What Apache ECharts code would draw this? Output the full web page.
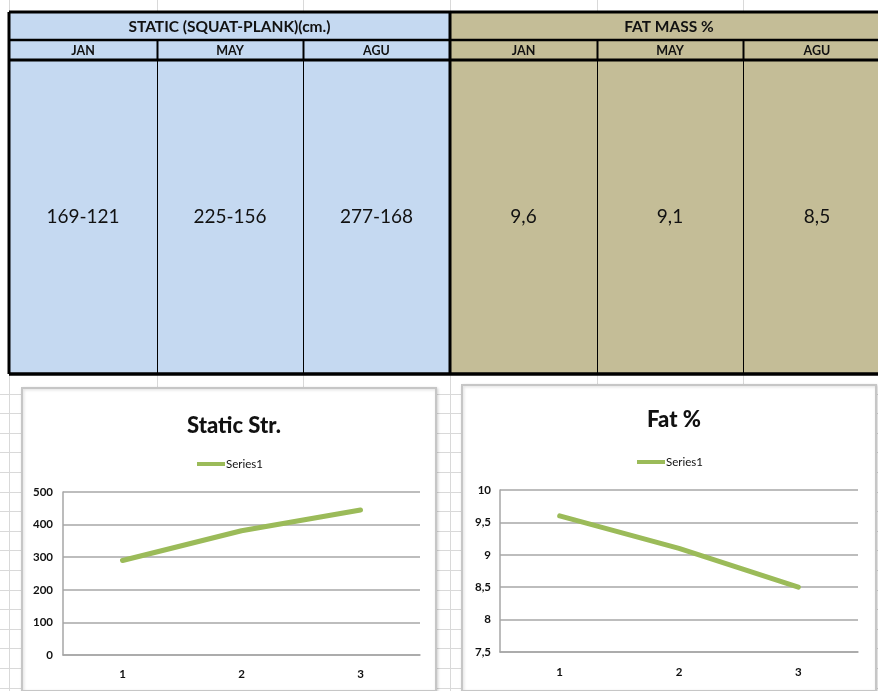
<!DOCTYPE html>
<html>
<head>
<meta charset="utf-8">
<script src="https://cdn.jsdelivr.net/npm/echarts@6/dist/echarts.min.js"></script>
<style>
  html, body { margin: 0; padding: 0; background: #ffffff; }
  #sheet { width: 878px; height: 691px; }
</style>
</head>
<body>
<div id="sheet"></div>
<script>
// Monthly measurements
const months = ['JAN', 'MAY', 'AGU'];
const squatCm = [169, 225, 277];
const plankCm = [121, 156, 168];
const fatMassPct = [9.6, 9.1, 8.5];
const pointLabels = ['1', '2', '3'];
const staticTicks = { min: 0, max: 500, interval: 100 };
const fatTicks = { min: 7.5, max: 10, interval: 0.5 };

// Static strength plotted as squat + plank total
const staticTotal = squatCm.map((v, i) => v + plankCm[i]);
const comma = v => String(v).replace('.', ',');

const FONT = 'Lato, "Open Sans", sans-serif';
const GREEN = '#9BBB59';
const BLUE = '#C5D9F1';
const KHAKI = '#C4BD97';
const SHEET_LINE = '#d9d9d9';

const chart = echarts.init(document.getElementById('sheet'), null, { renderer: 'canvas' });

// ---- spreadsheet cell grid behind everything ----
const colX = [9, 157, 303, 450, 597, 743, 889];
const tableTop = 12, row1 = 40, row2 = 60, tableBottom = 374;
const g = [];
colX.forEach(x => g.push({
  type: 'line', z: -20, silent: true,
  shape: { x1: x + 0.5, y1: 0, x2: x + 0.5, y2: 691 },
  style: { stroke: SHEET_LINE, lineWidth: 1 }
}));
for (let y = tableBottom + 19.6; y < 691; y += 19.6) {
  g.push({
    type: 'line', z: -20, silent: true,
    shape: { x1: 0, y1: Math.round(y) + 0.5, x2: 878, y2: Math.round(y) + 0.5 },
    style: { stroke: SHEET_LINE, lineWidth: 1 }
  });
}

// ---- table ----
const blockW = [[colX[0], colX[3]], [colX[3], colX[6]]];
const blockFill = [BLUE, KHAKI];
const blockTitle = ['STATIC (SQUAT-PLANK)(cm.)', 'FAT MASS %'];
const cellText = [
  squatCm.map((v, i) => v + '-' + plankCm[i]),
  fatMassPct.map(comma)
];
blockW.forEach(([x0, x1], b) => {
  g.push({ type: 'rect', z: -10, silent: true,
    shape: { x: x0, y: tableTop, width: x1 - x0, height: tableBottom - tableTop },
    style: { fill: blockFill[b] } });
  g.push({ type: 'text', z: -5, silent: true,
    style: { text: blockTitle[b], x: b === 0 ? (x0 + x1) / 2 : (x0 + 888) / 2, y: (tableTop + row1) / 2 + 1,
      align: 'center', verticalAlign: 'middle', fill: '#111', font: 'bold 15.5px ' + FONT } });
  for (let c = 0; c < 3; c++) {
    const cx0 = colX[b * 3 + c], cx1 = colX[b * 3 + c + 1];
    const mid = (b === 1 && c === 2) ? (cx0 + 891) / 2 : (cx0 + cx1) / 2;
    g.push({ type: 'text', z: -5, silent: true,
      style: { text: months[c], x: mid, y: (row1 + row2) / 2 + 1,
        align: 'center', verticalAlign: 'middle', fill: '#111', font: 'bold 12.5px ' + FONT } });
    g.push({ type: 'text', z: -5, silent: true,
      style: { text: cellText[b][c], x: mid, y: 217,
        align: 'center', verticalAlign: 'middle', fill: '#111', font: '19px ' + FONT } });
  }
});
// table borders
const hLine = (y, w) => g.push({ type: 'line', z: -4, silent: true,
  shape: { x1: colX[0], y1: y, x2: 878, y2: y }, style: { stroke: '#000', lineWidth: w } });
hLine(tableTop, 3); hLine(row1, 2.5); hLine(row2, 3); hLine(tableBottom, 3.5);
const vLine = (x, y0, y1, w) => g.push({ type: 'line', z: -4, silent: true,
  shape: { x1: x, y1: y0, x2: x, y2: y1 }, style: { stroke: '#000', lineWidth: w } });
vLine(colX[0], tableTop, tableBottom, 3);
vLine(colX[3], tableTop, tableBottom, 3);
[1, 2, 4, 5].forEach(i => {
  vLine(colX[i] + 0.5, row1, row2, 2);
  vLine(colX[i] + 0.5, row2, tableBottom, 1);
});

// ---- chart frames ----
[[22, 388, 414, 303], [462, 385, 414, 306]].forEach(([x, y, w, h]) => g.push({
  type: 'rect', z: -3, silent: true,
  shape: { x: x, y: y, width: w, height: h },
  style: { fill: '#fff', stroke: '#c6c6c6', lineWidth: 2,
    shadowBlur: 3, shadowColor: 'rgba(0,0,0,0.15)', shadowOffsetX: 1, shadowOffsetY: 1 }
}));

const axisLabel = { color: '#111', fontSize: 11.5, fontFamily: FONT, fontWeight: 'bold' };
const splitLine = { show: true, lineStyle: { color: '#bdbdbd', width: 2 } };
const legendText = { fontFamily: FONT, fontSize: 11.5, color: '#111', padding: [0, 0, 0, -4] };

chart.setOption({
  animation: false,
  backgroundColor: '#ffffff',
  title: [
    { text: 'Static Str.', left: 229, top: 410, textAlign: 'center',
      textStyle: { fontFamily: FONT, fontSize: 22, fontWeight: 900, color: '#111' } },
    { text: 'Fat %', left: 669, top: 404, textAlign: 'center',
      textStyle: { fontFamily: FONT, fontSize: 22, fontWeight: 900, color: '#111' } }
  ],
  legend: [
    { data: ['Series1'], left: 192, top: 453, icon: 'rect', itemWidth: 28, itemHeight: 4,
      textStyle: legendText },
    { data: ['Series1 '], left: 632, top: 451, icon: 'rect', itemWidth: 28, itemHeight: 4,
      textStyle: legendText, formatter: n => n.trim() }
  ],
  grid: [
    { left: 63, top: 492, width: 357, height: 163 },
    { left: 500, top: 490, width: 358, height: 162 }
  ],
  xAxis: [
    { type: 'category', gridIndex: 0, data: pointLabels, boundaryGap: true,
      axisLine: { lineStyle: { color: '#a6a6a6', width: 1.5 } }, axisTick: { show: false },
      axisLabel: Object.assign({ margin: 13 }, axisLabel) },
    { type: 'category', gridIndex: 1, data: pointLabels, boundaryGap: true,
      axisLine: { lineStyle: { color: '#a6a6a6', width: 1.5 } }, axisTick: { show: false },
      axisLabel: Object.assign({ margin: 14 }, axisLabel) }
  ],
  yAxis: [
    { type: 'value', gridIndex: 0, min: staticTicks.min, max: staticTicks.max, interval: staticTicks.interval,
      axisLine: { show: true, lineStyle: { color: '#a6a6a6', width: 1.5 } }, axisTick: { show: false },
      splitLine: splitLine, axisLabel: Object.assign({ margin: 10 }, axisLabel) },
    { type: 'value', gridIndex: 1, min: fatTicks.min, max: fatTicks.max, interval: fatTicks.interval,
      axisLine: { show: true, lineStyle: { color: '#a6a6a6', width: 1.5 } }, axisTick: { show: false },
      splitLine: splitLine, axisLabel: Object.assign({ margin: 9, formatter: comma }, axisLabel) }
  ],
  series: [
    { name: 'Series1', type: 'line', xAxisIndex: 0, yAxisIndex: 0, data: staticTotal,
      showSymbol: false, symbol: 'none', color: GREEN,
      lineStyle: { color: GREEN, width: 5, cap: 'round' } },
    { name: 'Series1 ', type: 'line', xAxisIndex: 1, yAxisIndex: 1, data: fatMassPct,
      showSymbol: false, symbol: 'none', color: GREEN,
      lineStyle: { color: GREEN, width: 5, cap: 'round' } }
  ],
  graphic: { elements: g }
});
</script>
</body>
</html>
